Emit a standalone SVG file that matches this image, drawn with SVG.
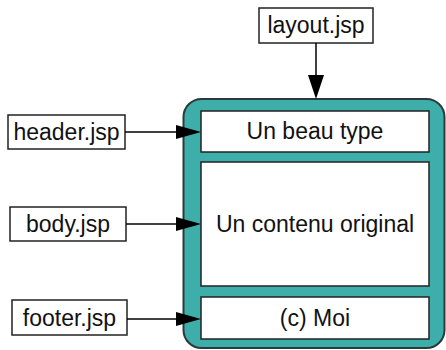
<svg xmlns="http://www.w3.org/2000/svg" width="446" height="350" viewBox="0 0 446 350">
<style>
.box{fill:#fff;stroke:#222;stroke-width:1.5}
.t{font-family:"Liberation Sans",Arial,sans-serif;font-size:23px;fill:#111;text-anchor:middle}
.c{stroke:#000;stroke-width:1.5;fill:none}
.ah{fill:#000}
</style>
<rect width="446" height="350" fill="#fff"/>
<g id="container">
<rect x="183.5" y="99" width="261" height="249" rx="18" fill="#3eaeab" stroke="#2a3a3a" stroke-width="2"/>
</g>
<g id="beau">
<rect class="box" x="201" y="111" width="228" height="41"/>
<text class="t" x="315" y="139">Un beau type</text>
</g>
<g id="contenu">
<rect class="box" x="201" y="162" width="228" height="124"/>
<text class="t" x="315" y="232">Un contenu original</text>
</g>
<g id="moi">
<rect class="box" x="201" y="297" width="228" height="42"/>
<text class="t" x="315" y="326">(c) Moi</text>
</g>
<g id="layout">
<rect class="box" x="259" y="8" width="114" height="35"/>
<text class="t" x="316" y="33">layout.jsp</text>
</g>
<g id="header">
<rect class="box" x="8" y="115" width="117" height="34"/>
<text class="t" x="66.5" y="140">header.jsp</text>
</g>
<g id="body">
<rect class="box" x="10" y="207" width="116" height="34"/>
<text class="t" x="68" y="232">body.jsp</text>
</g>
<g id="footer">
<rect class="box" x="12" y="300" width="115" height="35"/>
<text class="t" x="69.5" y="326">footer.jsp</text>
</g>
<g id="connectors">
<line class="c" x1="316" y1="43" x2="316" y2="76"/>
<polygon class="ah" points="308,75 324,75 316,99"/>
<line class="c" x1="125" y1="132" x2="177" y2="132"/>
<polygon class="ah" points="176,125 176,139 201,132"/>
<line class="c" x1="126" y1="224" x2="177" y2="224"/>
<polygon class="ah" points="176,217 176,231 201,224"/>
<line class="c" x1="127" y1="319" x2="177" y2="319"/>
<polygon class="ah" points="176,312 176,326 201,319"/>
</g>
</svg>
